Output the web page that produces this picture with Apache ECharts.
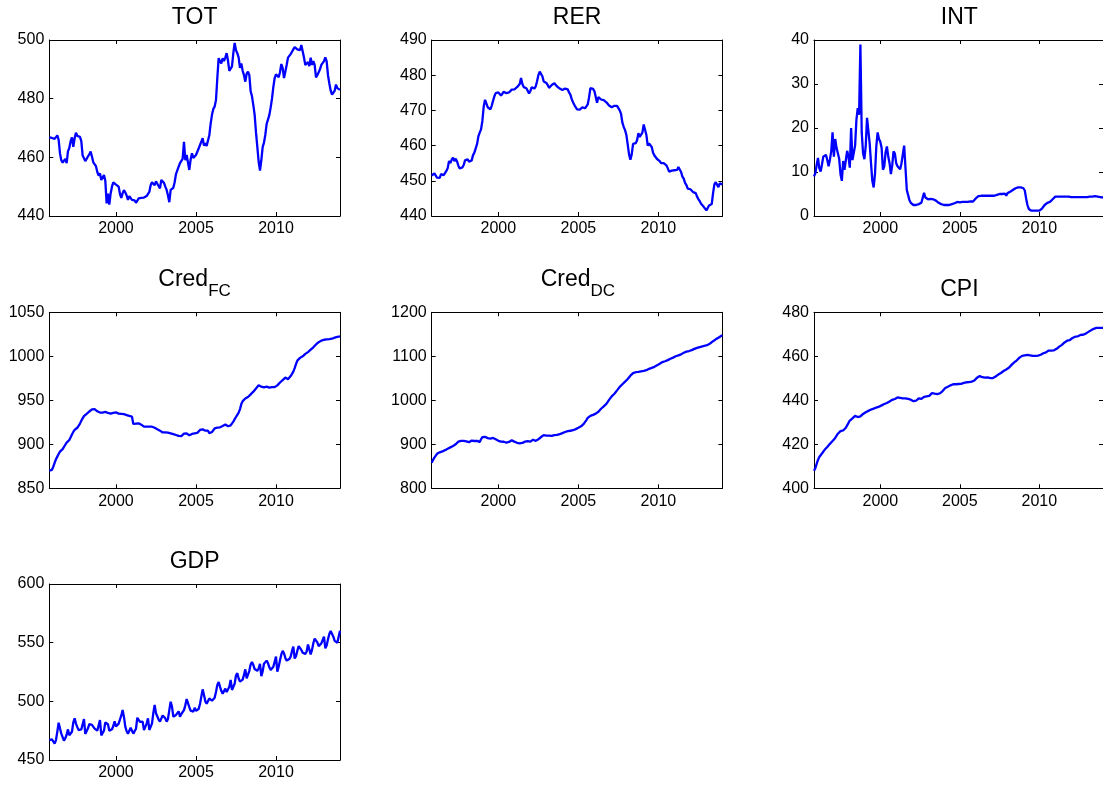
<!DOCTYPE html>
<html>
<head>
<meta charset="utf-8">
<script src="https://cdn.jsdelivr.net/npm/echarts@6/dist/echarts.min.js"></script>
<style>
  html, body { margin: 0; padding: 0; background: #fff; }
  #chart { width: 1103px; height: 787px; }
</style>
</head>
<body>
<div id="chart"></div>
<script>
// Monthly observations; the first one sits at 1995 + 10/12 on the decimal-year axis.
const FIRST_MONTH = 1995 + 10 / 12;
const LAST_MONTH = 2014;
const YEAR_TICKS = [2000, 2005, 2010];

const TOT_TICKS = [440, 460, 480, 500];
const RER_TICKS = [440, 450, 460, 470, 480, 490];
const INT_TICKS = [0, 10, 20, 30, 40];
const CRED_FC_TICKS = [850, 900, 950, 1000, 1050];
const CRED_DC_TICKS = [800, 900, 1000, 1100, 1200];
const CPI_TICKS = [400, 420, 440, 460, 480];
const GDP_TICKS = [450, 500, 550, 600];

const TOT = [
  466.8, 466.7, 466.6, 466.5, 466.3, 465.8, 467.5, 466.0, 461.4, 459.0,
  458.2, 457.8, 459.5, 458.0, 462.0, 463.2, 465.5, 466.8, 463.6, 466.5,
  468.4, 467.3, 466.8, 467.0, 465.5, 460.6, 459.7, 458.7, 459.3, 460.3,
  461.0, 462.0, 460.2, 458.3, 458.0, 457.0, 455.0, 453.8, 454.5, 452.3,
  452.5, 454.0, 452.0, 444.3, 447.6, 443.9, 447.7, 450.0, 451.5, 451.0,
  450.7, 450.3, 450.0, 447.5, 446.2, 447.8, 448.8, 448.0, 447.0, 445.5,
  446.8, 447.3, 445.5, 444.9, 445.3, 444.5, 445.2, 446.0, 446.6, 446.2,
  446.5, 446.3, 446.5, 446.8, 447.2, 448.2, 450.5, 451.5, 451.6, 450.5,
  451.8, 451.0, 451.5, 449.4, 452.3, 452.8, 451.3, 450.0, 448.9, 447.0,
  444.7, 448.9, 448.8, 449.6, 451.5, 454.3, 454.5, 456.8, 458.0, 458.2,
  459.5, 465.3, 459.0, 460.8, 461.0, 455.7, 459.3, 461.4, 459.8, 459.2,
  460.8, 461.4, 463.0, 464.2, 465.3, 466.5, 464.0, 464.8, 463.9, 464.4,
  467.5, 471.5, 474.5, 476.5, 477.3, 479.5, 487.0, 493.8, 492.8, 492.0,
  493.8, 492.8, 494.0, 495.5, 493.0, 489.5, 489.5, 491.0, 495.5, 499.0,
  496.5, 495.5, 494.0, 490.5, 492.0, 489.5, 488.0, 485.8, 488.5, 489.2,
  488.0, 482.5, 480.8, 477.8, 474.5, 468.5, 463.6, 458.5, 455.5, 459.0,
  463.5, 465.0, 467.7, 471.4, 471.8, 474.4, 477.0, 480.0, 483.9, 487.0,
  488.3, 487.8, 487.3, 489.0, 491.8, 490.5, 487.0, 489.2, 491.5, 494.0,
  494.5, 495.2, 496.0, 496.8, 497.6, 497.2, 496.8, 496.2, 496.5, 498.3,
  497.8, 494.0, 491.5, 491.8, 492.5, 491.1, 494.0, 491.5, 492.8, 491.5,
  487.3, 488.0, 487.5, 490.0, 491.5, 491.8, 492.8, 494.1, 492.7, 488.0,
  485.2, 482.8, 481.4, 481.6, 482.7, 484.8, 483.6, 483.0, 483.0
];

const RER = [
  451.5, 451.9, 452.1, 451.6, 450.9, 450.4, 450.8, 451.9, 452.4, 451.6,
  451.6, 452.8, 453.6, 455.6, 455.0, 456.0, 456.6, 455.6, 456.3, 455.5,
  454.3, 453.5, 453.3, 453.8, 454.5, 455.8, 455.3, 456.1, 455.4, 455.3,
  455.8, 457.3, 458.0, 459.2, 460.4, 462.6, 463.7, 464.6, 467.0, 471.1,
  473.0, 472.5, 470.9, 470.6, 470.3, 471.3, 472.7, 474.0, 474.9, 474.8,
  475.1, 475.4, 474.2, 474.4, 475.3, 475.7, 474.9, 474.6, 475.1, 475.5,
  475.9, 475.9, 476.0, 476.3, 476.6, 476.1, 477.5, 479.2, 477.5, 476.6,
  476.6, 476.3, 475.6, 474.8, 475.5, 476.6, 476.4, 476.2, 476.8, 478.3,
  480.0, 481.0, 480.8, 479.7, 478.2, 477.9, 477.8, 477.2, 476.4, 476.7,
  477.2, 477.7, 477.7, 477.4, 476.8, 476.4, 476.2, 476.2, 475.8, 475.8,
  476.2, 476.6, 476.0, 475.1, 474.5, 473.2, 472.3, 471.5, 471.0, 470.3,
  469.9, 470.2, 470.5, 470.9, 470.7, 470.6, 470.9, 471.7, 473.7, 476.3,
  476.4, 476.1, 475.5, 475.0, 472.2, 473.8, 473.3, 473.1, 473.0, 472.9,
  472.6, 472.3, 471.9, 471.4, 471.0, 470.9, 470.9, 471.3, 471.5, 471.3,
  471.0, 470.0, 469.0, 466.5, 465.3, 464.4, 463.0, 460.3, 457.5, 456.0,
  457.5, 460.5, 460.4, 460.7, 461.5, 463.5, 462.5, 462.3, 463.7, 466.0,
  465.8, 463.0, 460.0, 460.6, 460.6, 459.6, 458.0, 457.2, 456.8, 456.2,
  456.0, 455.6, 455.0, 455.2, 455.0, 454.8, 454.4, 453.6, 452.6, 452.6,
  452.9, 453.4, 453.0, 452.5, 453.1, 453.9, 453.6, 452.5, 451.2, 450.6,
  449.4, 448.8, 447.8, 447.8, 447.6, 447.2, 446.8, 446.7, 446.5, 445.5,
  444.8, 444.2, 443.5, 443.0, 442.6, 442.2, 441.6, 441.4, 443.0, 443.3,
  443.4, 446.5, 449.0, 449.6, 449.4, 448.2, 449.3, 448.8, 449.0
];

const INT = [
  9.0, 9.7, 11.6, 13.2, 10.9, 10.1, 11.7, 13.5, 13.2, 13.9,
  12.8, 11.3, 12.8, 14.7, 19.0, 13.5, 17.5, 15.5, 15.5, 13.0,
  9.5, 8.0, 12.5, 10.5, 10.5, 14.8, 13.5, 11.0, 20.0, 12.7,
  13.0, 16.0, 21.9, 24.5, 23.0, 39.0, 19.0, 14.3, 12.9, 15.8,
  22.3, 22.5, 16.5, 12.0, 8.0, 6.5, 9.5, 15.8, 19.0, 17.5,
  16.9, 15.5, 10.5, 11.3, 14.5, 15.8, 13.5, 12.0, 9.5, 11.5,
  14.7, 14.2, 12.0, 11.3, 10.9, 10.6, 12.0, 14.0, 16.0, 11.0,
  5.9, 5.6, 3.6, 3.0, 2.7, 2.5, 2.5, 2.5, 2.6, 2.7,
  2.9, 3.0, 3.3, 5.3, 4.2, 3.8, 3.8, 3.8, 3.9, 3.8,
  3.8, 3.8, 3.5, 3.3, 3.0, 2.9, 2.7, 2.6, 2.5, 2.5,
  2.5, 2.5, 2.5, 2.6, 2.7, 2.8, 2.9, 3.0, 3.2, 3.1,
  3.1, 3.2, 3.2, 3.2, 3.2, 3.2, 3.2, 3.3, 3.3, 3.3,
  3.3, 3.6, 4.0, 4.3, 4.5, 4.6, 4.6, 4.6, 4.6, 4.6,
  4.6, 4.6, 4.6, 4.6, 4.6, 4.6, 4.6, 4.6, 4.8, 4.8,
  5.0, 5.0, 5.0, 5.0, 5.1, 4.6, 5.2, 5.3, 5.5, 5.8,
  5.9, 6.1, 6.3, 6.4, 6.5, 6.5, 6.5, 6.4, 6.3, 5.8,
  4.0, 2.5, 1.6, 1.3, 1.2, 1.2, 1.2, 1.1, 1.2, 1.2,
  1.2, 1.4, 1.7, 2.0, 2.5, 2.9, 3.0, 3.0, 3.2, 3.4,
  3.8, 4.2, 4.4, 4.4, 4.4, 4.4, 4.4, 4.4, 4.4, 4.4,
  4.4, 4.4, 4.4, 4.3, 4.3, 4.3, 4.3, 4.3, 4.3, 4.3,
  4.3, 4.3, 4.3, 4.3, 4.3, 4.3, 4.3, 4.4, 4.4, 4.4,
  4.4, 4.4, 4.5, 4.7, 4.4, 4.3, 4.3, 4.2, 4.2
];

const CRED_FC = [
  870.1, 870.5, 871.0, 874.6, 879.0, 883.0, 886.0, 889.0, 891.7, 893.0,
  894.5, 896.5, 899.5, 901.9, 903.3, 904.9, 908.0, 911.2, 914.0, 916.3,
  917.5, 918.8, 921.0, 923.5, 926.8, 929.5, 932.0, 933.0, 934.5, 935.8,
  937.3, 939.0, 939.6, 940.2, 940.0, 938.7, 937.5, 936.5, 936.1, 936.0,
  936.0, 936.5, 936.9, 936.5, 935.6, 934.5, 934.8, 935.3, 935.8, 936.1,
  936.4, 935.5, 934.8, 934.5, 934.5, 934.5, 934.2, 934.0, 933.2, 932.7,
  932.2, 932.3, 931.5, 923.1, 923.1, 923.5, 923.9, 923.9, 923.5, 922.3,
  921.0, 920.1, 920.1, 920.1, 920.1, 920.1, 920.1, 920.0, 919.5, 918.8,
  918.0, 917.0, 916.5, 915.5, 914.5, 913.5, 913.2, 913.5, 913.3, 913.2,
  913.0, 912.5, 911.8, 911.6, 911.0, 910.6, 910.0, 909.5, 908.7, 909.3,
  911.0, 912.1, 913.0, 912.5, 911.0, 910.2, 911.0, 911.8, 912.3, 912.5,
  912.5, 913.0, 914.0, 916.3, 918.0, 917.0, 915.5, 915.5, 916.3, 915.5,
  912.5, 913.0, 914.0, 916.0, 918.0, 918.6, 919.0, 919.1, 919.3, 919.8,
  920.8, 921.5, 922.5, 922.0, 920.5, 920.1, 921.5, 923.5, 925.7, 928.5,
  931.0, 933.5, 936.0, 940.0, 945.7, 949.0, 951.1, 952.0, 953.0, 953.8,
  955.0, 956.8, 958.3, 959.8, 961.5, 963.5, 965.5, 967.0, 966.5, 965.5,
  964.7, 964.8, 965.5, 965.5, 965.5, 964.4, 964.5, 964.9, 964.3, 965.0,
  966.3, 967.0, 968.5, 970.2, 971.3, 973.0, 975.0, 975.8, 975.0, 974.0,
  975.0, 977.5, 980.0, 982.6, 986.5, 991.0, 995.1, 996.8, 998.2, 998.9,
  1000.0, 1001.5, 1002.7, 1003.7, 1004.8, 1006.4, 1007.6, 1008.8, 1010.2, 1012.0,
  1013.5, 1014.8, 1016.0, 1017.2, 1017.8, 1018.3, 1018.8, 1019.3, 1019.3, 1019.4,
  1019.6, 1019.7, 1020.0, 1020.5, 1021.2, 1021.8, 1022.0, 1022.4, 1022.7
];

const CRED_DC = [
  858.3, 864.5, 869.5, 874.0, 878.4, 880.2, 881.8, 882.8, 883.8, 885.3,
  886.7, 888.2, 890.0, 892.0, 893.0, 894.7, 896.0, 897.5, 900.0, 903.0,
  906.1, 907.2, 907.6, 907.6, 907.6, 907.6, 906.8, 905.8, 904.8, 906.5,
  908.5, 909.0, 907.5, 906.1, 908.0, 906.0, 905.0, 911.4, 916.5, 919.0,
  917.0, 914.5, 914.0, 913.3, 913.0, 914.3, 914.5, 913.6, 911.3, 909.5,
  908.0, 907.0, 906.1, 906.1, 905.8, 904.5, 904.0, 904.5, 905.3, 906.5,
  909.0, 909.0, 906.1, 904.5, 903.5, 902.3, 902.3, 902.3, 903.0, 904.5,
  906.1, 907.2, 907.4, 906.4, 906.1, 907.5, 910.5, 908.5, 907.8, 909.5,
  911.5, 914.0, 916.5, 918.9, 921.0, 920.5, 919.9, 919.7, 919.7, 919.3,
  919.0, 920.2, 920.9, 921.2, 921.2, 922.0, 922.9, 924.3, 925.5, 926.7,
  928.0, 929.2, 929.8, 930.3, 930.8, 931.1, 932.0, 933.3, 934.5, 936.0,
  937.5, 939.0, 940.8, 943.2, 946.5, 950.0, 955.0, 960.0, 963.2, 964.7,
  965.8, 966.9, 968.2, 969.8, 971.6, 974.0, 977.0, 980.8, 983.8, 986.2,
  988.8, 992.0, 995.8, 1001.0, 1005.3, 1009.0, 1011.5, 1014.8, 1018.3, 1022.5,
  1026.5, 1030.4, 1033.4, 1036.4, 1039.5, 1042.4, 1045.4, 1048.5, 1052.8, 1056.0,
  1059.0, 1061.7, 1063.0, 1063.8, 1064.2, 1064.6, 1065.0, 1065.8, 1066.5, 1066.9,
  1067.3, 1068.5, 1070.1, 1071.6, 1072.4, 1073.6, 1074.7, 1076.0, 1077.6, 1079.4,
  1081.3, 1083.2, 1085.1, 1086.8, 1087.6, 1088.8, 1089.9, 1091.3, 1092.8, 1094.3,
  1095.2, 1097.0, 1098.8, 1100.1, 1101.2, 1102.1, 1102.8, 1104.4, 1106.3, 1108.0,
  1109.4, 1110.5, 1111.2, 1112.0, 1112.7, 1114.0, 1115.5, 1116.8, 1117.9, 1119.0,
  1120.2, 1121.0, 1121.8, 1122.6, 1123.3, 1124.0, 1124.8, 1126.0, 1127.6, 1129.7,
  1132.0, 1134.3, 1136.5, 1138.6, 1140.4, 1142.3, 1144.2, 1146.0, 1147.7
];

const CPI = [
  408.0, 409.1, 411.1, 412.9, 414.2, 415.0, 415.8, 416.7, 417.5, 418.3,
  418.8, 419.4, 420.2, 421.0, 421.5, 422.0, 422.9, 423.8, 424.8, 425.5,
  426.0, 426.3, 426.3, 426.7, 427.5, 428.6, 429.7, 430.8, 431.3, 431.8,
  432.4, 432.9, 432.9, 432.4, 432.5, 432.7, 432.9, 433.8, 434.2, 434.6,
  434.9, 435.2, 435.6, 435.8, 436.0, 436.2, 436.5, 436.7, 437.0, 437.1,
  437.3, 437.7, 438.2, 438.3, 438.5, 438.8, 439.0, 439.5, 440.1, 440.2,
  440.3, 440.6, 441.0, 441.3, 441.3, 441.1, 440.9, 440.9, 440.9, 440.9,
  440.8, 440.6, 440.5, 440.3, 439.9, 439.6, 439.5, 439.8, 440.7, 440.9,
  440.8, 440.6, 440.9, 441.6, 441.9, 441.8, 441.7, 442.0, 442.8, 443.3,
  443.3, 443.0, 442.7, 442.8, 443.0, 443.2, 443.6, 444.2, 445.0, 445.6,
  446.0, 446.2, 446.5, 446.8, 447.2, 447.3, 447.3, 447.3, 447.3, 447.4,
  447.4, 447.5, 447.7, 447.9, 448.1, 448.2, 448.3, 448.3, 448.3, 448.5,
  448.6, 449.0, 449.6, 450.3, 450.8, 451.0, 450.9, 450.5, 450.3, 450.3,
  450.3, 450.4, 450.3, 450.1, 450.0, 450.1, 450.5, 450.8, 451.1, 451.7,
  452.0, 452.4, 453.0, 453.3, 453.7, 454.0, 454.3, 454.8, 455.4, 456.1,
  456.7, 457.2, 457.6, 458.2, 458.8, 459.4, 459.8, 460.2, 460.3, 460.4,
  460.5, 460.6, 460.5, 460.4, 460.3, 460.2, 460.2, 460.2, 460.2, 460.3,
  460.5, 460.7, 461.1, 461.4, 461.5, 461.8, 462.1, 462.6, 462.6, 462.6,
  462.6, 462.7, 462.9, 463.4, 464.0, 464.4, 464.8, 465.2, 465.8, 466.3,
  466.8, 467.1, 467.4, 467.4, 467.7, 468.3, 468.8, 468.9, 468.9, 469.1,
  469.4, 469.7, 469.8, 469.8, 470.0, 470.3, 470.6, 471.1, 471.5, 471.8,
  472.2, 472.5, 472.7, 472.9, 472.9, 472.9, 472.9, 472.9, 472.9
];

const GDP = [
  467.0, 467.3, 467.6, 467.0, 464.0, 467.0, 474.0, 481.8, 477.0, 472.5,
  469.5, 466.5, 468.5, 471.5, 476.1, 471.0, 471.5, 474.1, 482.0, 485.5,
  481.0, 478.0, 475.5, 475.5, 476.0, 476.5, 484.9, 472.2, 472.7, 477.0,
  480.5, 481.0, 480.0, 478.5, 476.8, 475.4, 475.0, 476.0, 484.1, 471.0,
  469.9, 475.0, 482.0, 483.5, 480.5, 474.9, 474.1, 476.2, 479.0, 483.0,
  478.5, 479.5, 481.0, 481.0, 488.0, 492.6, 486.5, 478.4, 474.5, 472.3,
  473.8, 477.5, 475.0, 472.5, 473.0, 476.6, 486.0, 487.5, 482.4, 482.7,
  482.7, 475.6, 477.0, 481.0, 485.5, 475.6, 477.0, 481.0, 490.0, 496.9,
  489.8, 488.4, 484.5, 482.7, 484.1, 488.0, 488.0, 485.5, 482.7, 485.0,
  492.5, 499.7, 495.5, 486.9, 487.8, 488.4, 489.5, 491.5, 486.9, 489.2,
  488.0, 492.5, 496.6, 502.0, 502.0, 495.0, 492.0, 490.5, 491.3, 494.5,
  492.0, 491.5, 493.5, 497.7, 504.0, 510.2, 505.4, 500.0, 498.0, 497.7,
  502.5, 501.0, 500.5, 501.0, 503.0, 508.0, 514.0, 516.5, 512.5, 509.0,
  506.5, 507.5, 510.8, 508.0, 509.0, 512.5, 518.2, 509.7, 508.2, 515.0,
  522.0, 524.0, 519.5, 516.8, 516.0, 518.5, 522.5, 527.3, 519.5, 521.0,
  526.0, 531.5, 533.5, 531.0, 527.5, 526.3, 526.0, 528.0, 532.0, 521.5,
  525.5, 532.0, 533.5, 534.7, 532.5, 529.0, 526.7, 527.5, 529.5, 531.0,
  538.1, 525.3, 529.5, 535.0, 540.0, 543.0, 541.0, 537.0, 534.7, 534.8,
  536.0, 538.0, 543.0, 546.6, 536.5, 538.5, 543.0, 547.0, 548.0, 543.8,
  541.5, 540.5, 540.3, 542.5, 548.5, 548.0, 540.0, 543.8, 549.5, 553.5,
  554.5, 550.3, 547.0, 547.5, 549.4, 551.0, 555.1, 545.2, 547.5, 552.8,
  557.4, 560.0, 559.2, 555.1, 551.5, 550.5, 550.0, 555.1, 560.2
];

// Panel list: title, optional subscript, data, tick values, grid cell.
const PANELS = [
  { name: 'TOT',  sub: '',   values: TOT,     ticks: TOT_TICKS,     col: 0, row: 0 },
  { name: 'RER',  sub: '',   values: RER,     ticks: RER_TICKS,     col: 1, row: 0 },
  { name: 'INT',  sub: '',   values: INT,     ticks: INT_TICKS,     col: 2, row: 0 },
  { name: 'Cred', sub: 'FC', values: CRED_FC, ticks: CRED_FC_TICKS, col: 0, row: 1 },
  { name: 'Cred', sub: 'DC', values: CRED_DC, ticks: CRED_DC_TICKS, col: 1, row: 1 },
  { name: 'CPI',  sub: '',   values: CPI,     ticks: CPI_TICKS,     col: 2, row: 1 },
  { name: 'GDP',  sub: '',   values: GDP,     ticks: GDP_TICKS,     col: 0, row: 2 }
];

// Layout of the 3x3 subplot grid (pixels)
const COL_LEFT = [49.3, 431.7, 814];
const ROW_TOP = [40, 312.3, 584];
const CELL_W = 290.7;
const CELL_H = 176;

const FONT = "'Liberation Sans', Arial, Helvetica, sans-serif";
const TICK_FONT = 16;
const TITLE_FONT = 23;
const SUB_FONT = 17;
const AXIS_COLOR = '#000';
const LINE_COLOR = '#0000ff';

const plain = v => String(v);
const toPoints = values => values.map((v, i) => [FIRST_MONTH + i / 12, v]);

const grids = [], xAxes = [], yAxes = [], series = [], graphics = [];

PANELS.forEach((p, k) => {
  const left = COL_LEFT[p.col];
  const top = ROW_TOP[p.row];
  grids.push({ left: left, top: top, width: CELL_W, height: CELL_H, containLabel: false });

  const lineStyle = { color: AXIS_COLOR, width: 1 };
  const baseX = {
    gridIndex: k, type: 'value', min: FIRST_MONTH, max: LAST_MONTH,
    axisLine: { show: true, onZero: false, lineStyle: lineStyle },
    axisTick: { show: true, inside: true, length: 4, customValues: YEAR_TICKS, lineStyle: lineStyle },
    splitLine: { show: false }
  };
  xAxes.push(Object.assign({}, baseX, {
    position: 'bottom',
    axisLabel: { show: true, customValues: YEAR_TICKS, formatter: plain, color: AXIS_COLOR,
                 fontSize: TICK_FONT, fontFamily: FONT, margin: 5 }
  }));
  xAxes.push(Object.assign({}, baseX, {
    position: 'top',
    axisLabel: { show: false }
  }));

  const t = p.ticks;
  const baseY = {
    gridIndex: k, type: 'value', min: t[0], max: t[t.length - 1], interval: t[1] - t[0],
    axisLine: { show: true, onZero: false, lineStyle: lineStyle },
    axisTick: { show: true, inside: true, length: 4, lineStyle: lineStyle },
    splitLine: { show: false }
  };
  yAxes.push(Object.assign({}, baseY, {
    position: 'left',
    axisLabel: { show: true, formatter: plain, color: AXIS_COLOR, fontSize: TICK_FONT, fontFamily: FONT, margin: 5 }
  }));
  yAxes.push(Object.assign({}, baseY, {
    position: 'right',
    axisLabel: { show: false }
  }));

  series.push({
    type: 'line',
    xAxisIndex: 2 * k,
    yAxisIndex: 2 * k,
    data: toPoints(p.values),
    showSymbol: false,
    symbol: 'none',
    clip: true,
    lineStyle: { color: LINE_COLOR, width: 2.3 },
    emphasis: { disabled: true },
    animation: false
  });

  // Panel titles, with an optional subscript after the main word
  const cx = left + CELL_W / 2;
  if (!p.sub) {
    graphics.push({
      type: 'text', x: cx, y: top - 22.5, silent: true,
      style: { text: p.name, font: TITLE_FONT + 'px ' + FONT, fill: '#000',
               textAlign: 'center', textVerticalAlign: 'middle', align: 'center', verticalAlign: 'middle' }
    });
  } else {
    const split = cx + 13.5;
    graphics.push({
      type: 'text', x: split, y: top - 33, silent: true,
      style: { text: p.name, font: TITLE_FONT + 'px ' + FONT, fill: '#000',
               textAlign: 'right', textVerticalAlign: 'middle', align: 'right', verticalAlign: 'middle' }
    });
    graphics.push({
      type: 'text', x: split, y: top - 20.5, silent: true,
      style: { text: p.sub, font: SUB_FONT + 'px ' + FONT, fill: '#000',
               textAlign: 'left', textVerticalAlign: 'middle', align: 'left', verticalAlign: 'middle' }
    });
  }
});

const chart = echarts.init(document.getElementById('chart'), null, { renderer: 'canvas' });
chart.setOption({
  backgroundColor: '#ffffff',
  animation: false,
  grid: grids,
  xAxis: xAxes,
  yAxis: yAxes,
  series: series,
  graphic: graphics
});
</script>
</body>
</html>
